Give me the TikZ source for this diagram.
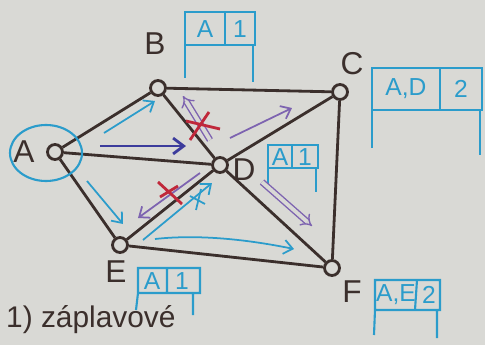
\documentclass[tikz,border=0pt]{standalone}
\usepackage{fontspec}
\setmainfont{Liberation Sans}
\usetikzlibrary{arrows.meta}
\definecolor{bg}{HTML}{D9D9D5}
\definecolor{edgec}{HTML}{3B2F2C}
\definecolor{cy}{HTML}{2B9CCB}
\definecolor{pu}{HTML}{7D63B0}
\definecolor{nv}{HTML}{3C3C9C}
\definecolor{rd}{HTML}{C0283A}
\begin{document}
\begin{tikzpicture}[x=0.02cm,y=-0.02cm,
  vert/.style={circle,draw=edgec,line width=1.6pt,fill=bg,minimum size=0.3cm,inner sep=0pt},
  lbl/.style={text=edgec,font=\fontsize{18}{18}\selectfont},
  link/.style={draw=edgec,line width=1.6pt},
  tbl/.style={draw=cy,line width=1.2pt},
  cell/.style={text=cy,font=\fontsize{14}{14}\selectfont},
  cyarr/.style={draw=cy,line width=1pt,-{Straight Barb[length=5pt,width=8pt]}},
  puarr/.style={draw=pu,line width=1pt,-{Straight Barb[length=5pt,width=8pt]}},
  pudbl/.style={draw=pu,double=bg,double distance=2.2pt,line width=0.8pt,-{Implies}},
  nvarr/.style={draw=nv,line width=1.6pt,-{Straight Barb[length=6pt,width=9pt]}},
  cross/.style={draw=rd,line width=1.6pt},
  cyx/.style={draw=cy,line width=1pt}]
\fill[bg] (0,0) rectangle (485,345);
% vertices
\node[vert] (A) at (55,152) {};
\node[vert] (B) at (158,88) {};
\node[vert] (C) at (340,92) {};
\node[vert] (D) at (220,165) {};
\node[vert] (E) at (120,245) {};
\node[vert] (F) at (332,268) {};
% edges
\draw[link] (A) -- (B);
\draw[link] (A) -- (D);
\draw[link] (A) -- (E);
\draw[link] (B) -- (C);
\draw[link] (B) -- (D);
\draw[link] (D) -- (F);
\draw[link] (C) -- (D);
\draw[link] (D) -- (E);
\draw[link] (C) -- (F);
\draw[link] (E) -- (F);
% vertex labels
\node[lbl] (lA) at (24,152) {A};
\draw[cy,line width=1.2pt] (46,153) ellipse (36 and 28);
\node[lbl] (lB) at (155,44) {B};
\node[lbl] (lC) at (352,64) {C};
\node[lbl] (lD) at (244,170) {D};
\node[lbl] (lE) at (116,272) {E};
\node[lbl] (lF) at (352,292) {F};
% tables
\draw[tbl] (185,12) rectangle (255,45) (225,12) -- (225,45) (185,45) -- (185,78) (253,45) -- (253,82);
\node[cell] (tB1) at (205,29) {A}; \node[cell] (tB2) at (240,29) {1};
\draw[tbl] (372,68) rectangle (482,110) (440,68) -- (440,110) (372,110) -- (372,148) (480,110) -- (480,155);
\node[cell] (tC1) at (406,89) {A,D}; \node[cell] (tC2) at (461,89) {2};
\draw[tbl] (268,145) rectangle (318,168) (292,145) -- (292,168) (268,168) -- (268,190) (316,168) -- (316,192);
\node[cell] (tD1) at (280,157) {A}; \node[cell] (tD2) at (305,157) {1};
\draw[tbl] (138,268) rectangle (200,293) (167,268) -- (167,293) (138,293) -- (136,310) (193,293) -- (193,315);
\node[cell] (tE1) at (152,281) {A}; \node[cell] (tE2) at (182,281) {1};
\draw[tbl] (375,280) rectangle (440,310) (417,280) -- (415,310) (375,310) -- (374,335) (437,310) -- (437,338);
\node[cell] (tF1) at (396,295) {A,E}; \node[cell] (tF2) at (429,295) {2};
% flow arrows
\coordinate (a1s) at (104,133); \coordinate (a1e) at (155,101);
\coordinate (a2s) at (100,146); \coordinate (a2e) at (186,146);
\coordinate (a3s) at (87,181); \coordinate (a3e) at (123,224);
\coordinate (a4s) at (155,239); \coordinate (a4e) at (294,249);
\coordinate (a5s) at (143,240); \coordinate (a5e) at (212,183);
\coordinate (a6s) at (200,173); \coordinate (a6e) at (138,218);
\coordinate (a7s) at (210,140); \coordinate (a7e) at (183,96);
\coordinate (a8s) at (230,138); \coordinate (a8e) at (292,108);
\coordinate (a9s) at (262,182); \coordinate (a9e) at (312,226);
\draw[cyarr] (a1s) -- (a1e);
\draw[nvarr] (a2s) -- (a2e);
\draw[cyarr] (a3s) -- (a3e);
\draw[cyarr] (a4s) .. controls (200,234) and (250,240) .. (a4e);
\draw[cyarr] (a5s) -- (a5e);
\draw[puarr] (a6s) -- (a6e);
\draw[pudbl] (a7s) -- (a7e);
\draw[puarr] (a8s) -- (a8e);
\draw[pudbl] (a9s) -- (a9e);
% crosses
\draw[cross] (186,121) -- (220,129) (190,140) -- (209,112);
\draw[cross] (158,182) -- (182,204) (160,197) -- (178,186);
\draw[cyx] (190,196) -- (205,204) (201,189) -- (196,210);
% caption
\node[text=edgec,font=\fontsize{17}{17}\selectfont,anchor=west] (cap) at (0,320) {1) záplavové};
\end{tikzpicture}
\end{document}
